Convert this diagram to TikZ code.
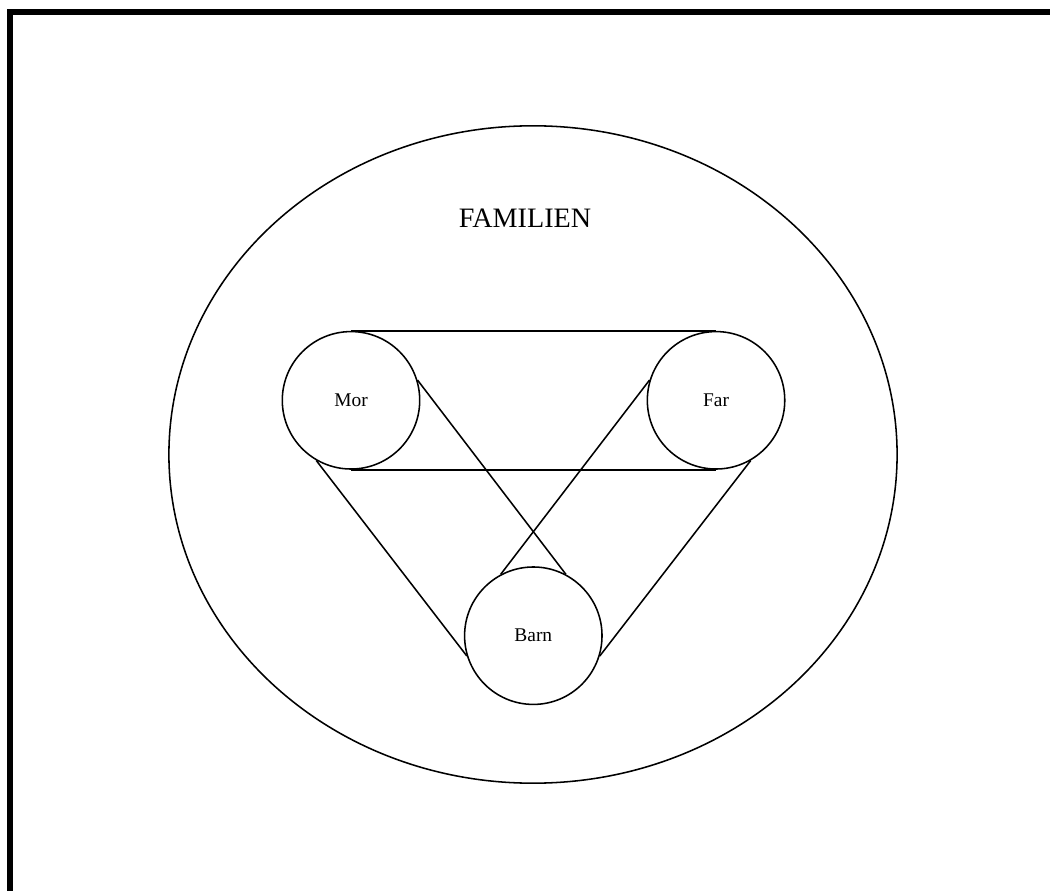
\documentclass[tikz,border=0pt]{standalone}
\usepackage{fontspec}
\setmainfont{Liberation Serif}
\usetikzlibrary{positioning, shapes.geometric}

\begin{document}
\begin{tikzpicture}[
        x=0.025cm, y=-0.025cm,
        person/.style={
          circle,
          draw=black,
          inner sep=0pt,
          minimum size=3.435cm,
          line width=1.1pt,
          font=\fontsize{13.8}{16}\selectfont,
        },
        family/.style={
          ellipse,
          draw=black,
          inner sep=0pt,
          minimum width=18.2cm,
          minimum height=16.43cm,
          line width=1.1pt,
        },
        link/.style={black, line width=1.1pt},
        frame/.style={black, line width=0.15cm},
      ]
        \useasboundingbox (0,0) rectangle (1050,891);
        \clip (0,0) rectangle (1050,891);
        \draw[frame] (9.7,950) |- (1100,12.3);

        \node[family] (fam) at (533,454.5) {};
        \node[font=\fontsize{20}{23}\selectfont] (title) at (525,218) {FAMILIEN};

        \node[person] (mor) at (351,400.3) {Mor};
        \node[person, right=5.65cm of mor] (far) {Far};
        \node[person] (barn) at (533.3,635.7) {Barn};

        \draw[link] (mor.north) -- (far.north);
        \draw[link] (mor.south) -- (far.south);
        \draw[link] (mor.17) -- (barn.62);
        \draw[link] (far.163) -- (barn.118);
        \draw[link] (mor.240) -- (barn.197);
        \draw[link] (far.300) -- (barn.343);
      \end{tikzpicture}
\end{document}
